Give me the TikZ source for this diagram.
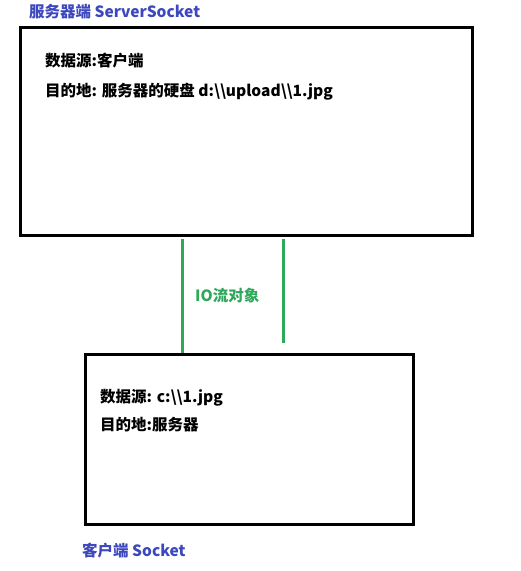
\documentclass[tikz,border=0pt]{standalone}
\usepackage{fontspec}
\setmainfont{Noto Sans CJK SC}
\usetikzlibrary{positioning}
\definecolor{titleblue}{RGB}{62,72,190}
\definecolor{iogreen}{RGB}{46,168,90}
\tikzset{
  endbox/.style={draw, line width=3pt, inner sep=0pt},
  boxtext/.style={anchor=base west, inner sep=0pt, font=\bfseries\fontsize{15.5}{18}\selectfont},
  boxtitle/.style={boxtext, text=titleblue},
  ioline/.style={draw=iogreen, line width=3pt}
}
\begin{document}
\begin{tikzpicture}[x=1pt, y=-1pt]
    \useasboundingbox (0,0) rectangle (521,571);
    % Server side
    \node[endbox, minimum width=452pt, minimum height=208pt, anchor=north west] (server) at (19,26) {};
    \node[boxtitle] (servertitle) at (29,17) {服务器端 ServerSocket};
    \node[boxtext] (serversrc) at (45,66) {数据源:客户端};
    \node[boxtext] (serverdst) at (45,96) {目的地: 服务器的硬盘 d:\textbackslash\textbackslash upload\textbackslash\textbackslash 1.jpg};

    % Client side
    \node[endbox, minimum width=328pt, minimum height=170pt, anchor=north west] (client) at (84,353) {};
    \node[boxtext] (clientsrc) at (100,402) {数据源: c:\textbackslash\textbackslash 1.jpg};
    \node[boxtext] (clientdst) at (100,430) {目的地:服务器};
    \node[boxtitle] (clienttitle) at (82,556) {客户端 Socket};

    % IO stream
    \coordinate (streamend) at (283,343);
    \draw[ioline] (server.south -| 182,0) ++(0,2) -- (client.north -| 182,0);
    \draw[ioline] (server.south -| streamend) ++(0,2) -- (streamend);
    \node[boxtext, text=iogreen] (stream) at (195,301) {IO流对象};
\end{tikzpicture}
\end{document}
